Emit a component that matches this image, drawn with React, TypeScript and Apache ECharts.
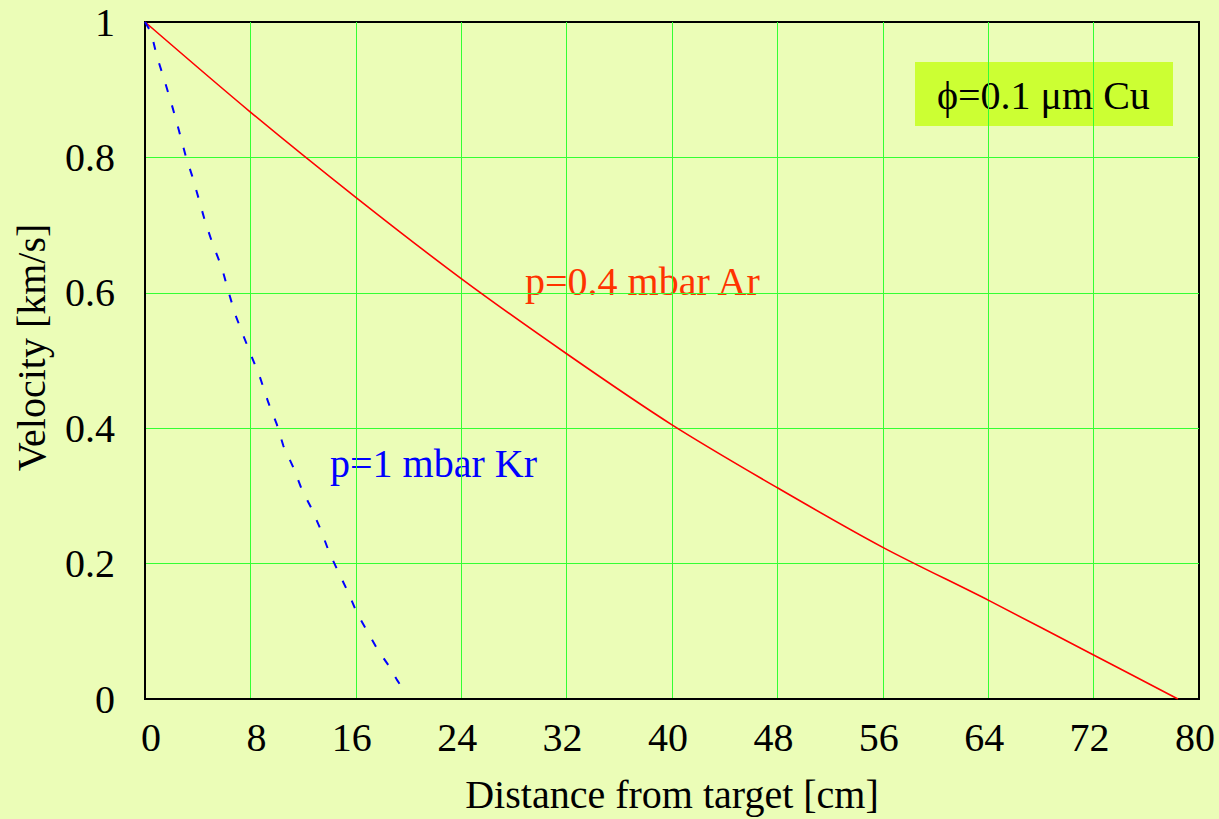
import React, { useEffect, useRef } from "react";
import * as echarts from "echarts";

const xTicks = { min: 0, max: 80, interval: 8 };
const yTicks = { min: 0, max: 1, interval: 0.2 };

// p=0.4 mbar Ar (red, solid)
const arDistance = [0, 8, 16, 24, 32, 40, 48, 56, 64, 72, 78.4];
const arVelocity = [1, 0.867, 0.741, 0.621, 0.51, 0.405, 0.312, 0.224, 0.146, 0.065, 0];

// p=1 mbar Kr (blue, dashed)
const krDistance = [0, 0.46, 0.89, 1.46, 2.03, 2.53, 3.09, 3.59, 4.12, 4.55, 5.14, 5.82, 6.32, 6.83, 7.46, 8.05, 8.73, 9.36, 10.0, 10.5, 11.26, 11.89, 12.65, 13.36, 13.97, 14.67, 15.43, 16.11, 16.87, 17.63, 18.47, 19.1, 19.73];
const krVelocity = [1, 0.985, 0.95, 0.915, 0.878, 0.843, 0.802, 0.772, 0.736, 0.706, 0.672, 0.638, 0.603, 0.569, 0.537, 0.508, 0.475, 0.438, 0.406, 0.374, 0.342, 0.31, 0.281, 0.249, 0.217, 0.188, 0.157, 0.126, 0.1, 0.074, 0.05, 0.029, 0.01];

const xTitle = "Distance from target [cm]";
const yTitle = "Velocity [km/s]";
const arLabel = "p=0.4 mbar Ar";
const krLabel = "p=1 mbar Kr";
const boxLabel = "ϕ=0.1 μm Cu";

const FONT = "'Liberation Serif', 'Times New Roman', serif";
const FS = 40;

export default function App() {
  const ref = useRef<HTMLDivElement>(null);
  useEffect(() => {
    if (!ref.current) return;
    const chart = echarts.init(ref.current, undefined, { renderer: "svg" });
    chart.setOption({
      animation: false,
      backgroundColor: "#EBFDB7",
      grid: {
        left: 145,
        right: 20,
        top: 22,
        bottom: 119,
        show: true,
        borderColor: "#000",
        borderWidth: 2,
        backgroundColor: "transparent",
      },
      xAxis: {
        type: "value",
        ...xTicks,
        name: xTitle,
        nameLocation: "middle",
        nameGap: 75,
        nameTextStyle: { fontFamily: FONT, fontSize: FS, color: "#000" },
        axisLine: { show: true, onZero: false, lineStyle: { color: "#000", width: 2 } },
        axisTick: { show: false },
        axisLabel: {
          interval: 0,
          fontFamily: FONT,
          fontSize: FS,
          color: "#000",
          margin: 18,
          align: "right",
          padding: [0, -16, 0, 0],
        },
        splitLine: {
          show: true,
          showMinLine: false,
          showMaxLine: false,
          lineStyle: { color: "#33FF33", width: 1 },
        },
      },
      yAxis: {
        type: "value",
        ...yTicks,
        name: yTitle,
        nameLocation: "middle",
        nameGap: 94,
        nameTextStyle: {
          fontFamily: FONT,
          fontSize: FS,
          color: "#000",
          padding: [0, 0, 0, 26],
        },
        axisLine: { show: true, onZero: false, lineStyle: { color: "#000", width: 2 } },
        axisTick: { show: false },
        axisLabel: {
          fontFamily: FONT,
          fontSize: FS,
          color: "#000",
          margin: 30,
          align: "right",
        },
        splitLine: {
          show: true,
          showMinLine: false,
          showMaxLine: false,
          lineStyle: { color: "#33FF33", width: 1 },
        },
      },
      series: [
        {
          type: "line",
          name: arLabel,
          data: arDistance.map((d, i) => [d, arVelocity[i]]),
          smooth: 0.3,
          showSymbol: false,
          lineStyle: { color: "#FF0000", width: 1.6 },
          z: 3,
        },
        {
          type: "line",
          name: krLabel,
          data: krDistance.map((d, i) => [d, krVelocity[i]]),
          showSymbol: false,
          lineStyle: { color: "#0000FF", width: 2, type: [8, 14] },
          z: 3,
        },
      ],
      graphic: [
        {
          type: "text",
          left: 525,
          top: 261,
          style: { text: arLabel, fill: "#FF3300", font: `${FS}px ${FONT}` },
        },
        {
          type: "text",
          left: 330,
          top: 443,
          style: { text: krLabel, fill: "#0000FF", font: `${FS}px ${FONT}` },
        },
        {
          type: "rect",
          left: 915,
          top: 62,
          shape: { width: 258, height: 64 },
          style: { fill: "#CCFF33" },
        },
        {
          type: "text",
          left: 937,
          top: 75,
          style: { text: boxLabel, fill: "#000", font: `${FS}px ${FONT}` },
        },
      ],
    });
    return () => chart.dispose();
  }, []);
  return (
    <div
      ref={ref}
      style={{ position: "absolute", left: 0, top: 0, width: 1219, height: 819 }}
    />
  );
}
